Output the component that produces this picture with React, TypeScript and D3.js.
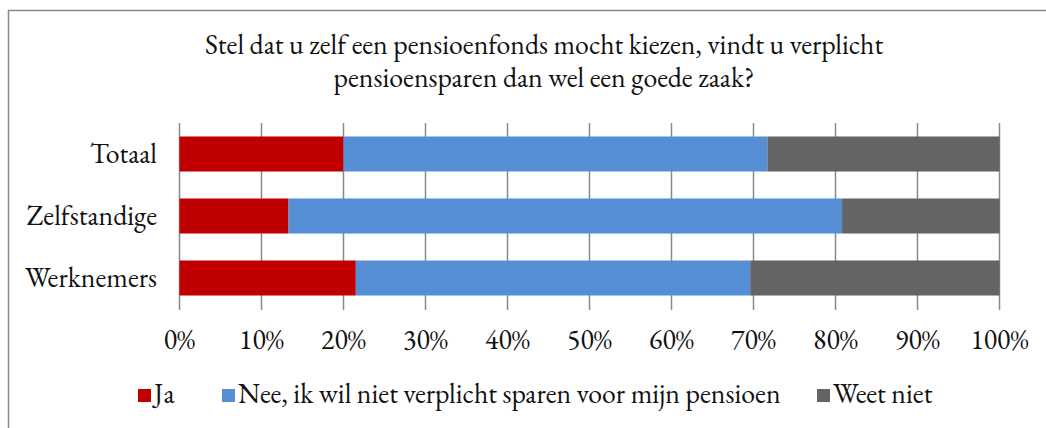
import React, { useEffect, useRef } from 'react';
import * as d3 from 'd3';

// values (percent)
const categories = ['Totaal', 'Zelfstandige', 'Werknemers'];
const ja = [20.0, 13.3, 21.5];
const nee = [51.7, 67.5, 48.1];
const weetNiet = [28.3, 19.2, 30.4];

const seriesNames = ['Ja', 'Nee, ik wil niet verplicht sparen voor mijn pensioen', 'Weet niet'];
const seriesColors = ['#C00000', '#558ED5', '#646464'];
const tickValues = [0, 10, 20, 30, 40, 50, 60, 70, 80, 90, 100];

const titleLines = [
  'Stel dat u zelf een pensioenfonds mocht kiezen, vindt u verplicht',
  'pensioensparen dan wel een goede zaak?',
];

const width = 1046;
const height = 428;
const font = "'EB Garamond', Garamond, 'Liberation Serif', serif";
const fontSize = 27.8;

const App = () => {
  const svgRef = useRef<SVGSVGElement>(null);

  useEffect(() => {
    const svg = d3.select(svgRef.current);
    svg.selectAll('*').remove();

    // frame of the chart area, runs off the right/bottom edge
    svg.append('rect')
      .attr('x', 8.5).attr('y', 10.5)
      .attr('width', 1060).attr('height', 440)
      .attr('fill', 'white')
      .attr('stroke', '#898989')
      .attr('stroke-width', 1.5);

    // two title lines as separate texts
    svg.append('g')
      .selectAll('text')
      .data(titleLines)
      .join('text')
      .attr('text-anchor', 'middle')
      .attr('font-family', font)
      .attr('font-size', fontSize)
      .attr('fill', '#111')
      .attr('x', 544)
      .attr('y', (d, i) => 54 + i * 33)
      .text(d => d);

    const rows = categories.map((c, i) => ({ cat: c, s0: ja[i], s1: nee[i], s2: weetNiet[i] }));
    const stacked = d3.stack<any>().keys(['s0', 's1', 's2'])(rows);

    const x = d3.scaleLinear().domain([0, 100]).range([179.5, 999.5]);
    const y = d3.scaleBand().domain(categories).range([123, 309]).paddingInner(0.435).paddingOuter(0.2175);

    // gridlines
    svg.append('g')
      .selectAll('line')
      .data(tickValues)
      .join('line')
      .attr('x1', d => x(d)).attr('x2', d => x(d))
      .attr('y1', 123).attr('y2', 310)
      .attr('stroke', '#898989')
      .attr('stroke-width', 1.5);

    svg.append('g')
      .selectAll('g')
      .data(stacked)
      .join('g')
      .attr('fill', (d, i) => seriesColors[i])
      .selectAll('rect')
      .data(d => d)
      .join('rect')
      .attr('x', d => x(d[0]))
      .attr('width', d => x(d[1]) - x(d[0]))
      .attr('y', d => y(d.data.cat)!)
      .attr('height', y.bandwidth());

    // category labels
    svg.append('g')
      .selectAll('text')
      .data(categories)
      .join('text')
      .attr('x', 157)
      .attr('y', d => y(d)! + y.bandwidth() / 2 + 9)
      .attr('text-anchor', 'end')
      .attr('font-family', font)
      .attr('font-size', fontSize)
      .attr('fill', '#111')
      .text(d => d);

    // x tick labels
    svg.append('g')
      .selectAll('text')
      .data(tickValues)
      .join('text')
      .attr('x', d => x(d))
      .attr('y', 349)
      .attr('text-anchor', 'middle')
      .attr('font-family', font)
      .attr('font-size', fontSize)
      .attr('fill', '#111')
      .text(d => d + '%');

    // legend
    const legendX = [138, 222, 817];
    const legend = svg.append('g')
      .selectAll('g')
      .data(seriesNames)
      .join('g')
      .attr('transform', (d, i) => `translate(${legendX[i]},389)`);
    legend.append('rect')
      .attr('width', 13).attr('height', 13)
      .attr('fill', (d, i) => seriesColors[i]);
    legend.append('text')
      .attr('x', 16)
      .attr('y', 14)
      .attr('font-family', font)
      .attr('font-size', fontSize)
      .attr('fill', '#111')
      .text(d => d);
  }, []);

  return (
    <div style={{ position: 'absolute', left: 0, top: 0 }}>
      <svg ref={svgRef} width={width} height={height} style={{ display: 'block' }} />
    </div>
  );
};

export default App;
